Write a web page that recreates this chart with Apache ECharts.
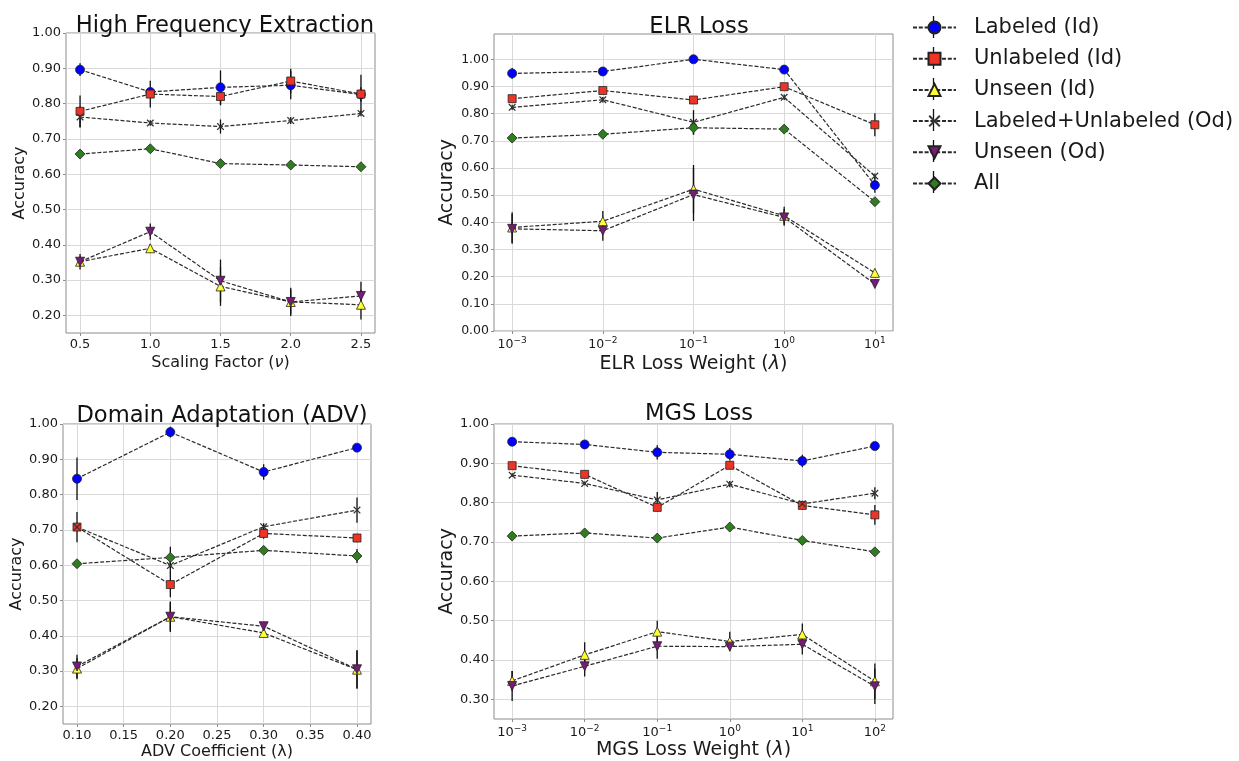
<!DOCTYPE html>
<html><head><meta charset="utf-8">
<script src="https://cdn.jsdelivr.net/npm/echarts@6/dist/echarts.min.js"></script>
<style>html,body{margin:0;padding:0;background:#fff}#c{width:1239px;height:761px}</style>
</head><body><div id="c"></div>
<script>
// ---------- data ----------
const seriesNames = ['Labeled (Id)','Unlabeled (Id)','Unseen (Id)','Labeled+Unlabeled (Od)','Unseen (Od)','All'];

// High Frequency Extraction
const hfxX = [0.5, 1.0, 1.5, 2.0, 2.5];
const hfxLabeledId = [0.896, 0.833, 0.846, 0.852, 0.826];
const hfxLabeledIdErr = [0.018, 0.010, 0.048, 0.040, 0.020];
const hfxUnlabeledId = [0.778, 0.827, 0.820, 0.864, 0.827];
const hfxUnlabeledIdErr = [0.045, 0.038, 0.025, 0.035, 0.055];
const hfxUnseenId = [0.352, 0.390, 0.282, 0.238, 0.230];
const hfxUnseenIdErr = [0.015, 0.012, 0.055, 0.035, 0.042];
const hfxLUOd = [0.762, 0.745, 0.735, 0.752, 0.772];
const hfxLUOdErr = [0.030, 0.008, 0.020, 0.010, 0.008];
const hfxUnseenOd = [0.352, 0.437, 0.298, 0.238, 0.255];
const hfxUnseenOdErr = [0.022, 0.023, 0.060, 0.040, 0.040];
const hfxAll = [0.657, 0.672, 0.630, 0.626, 0.621];
const hfxAllErr = [0.005, 0.005, 0.005, 0.005, 0.005];
const hfxXTicks = [0.5, 1.0, 1.5, 2.0, 2.5];
const hfxYTicks = [0.2, 0.3, 0.4, 0.5, 0.6, 0.7, 0.8, 0.9, 1.0];

// ELR Loss
const elrX = [0.001, 0.01, 0.1, 1, 10];
const elrLabeledId = [0.948, 0.955, 1.000, 0.962, 0.537];
const elrLabeledIdErr = [0.020, 0.008, 0.005, 0.008, 0.028];
const elrUnlabeledId = [0.855, 0.885, 0.850, 0.899, 0.759];
const elrUnlabeledIdErr = [0.010, 0.010, 0.010, 0.010, 0.042];
const elrUnseenId = [0.381, 0.404, 0.522, 0.424, 0.214];
const elrUnseenIdErr = [0.056, 0.038, 0.089, 0.033, 0.008];
const elrLUOd = [0.823, 0.851, 0.768, 0.860, 0.570];
const elrLUOdErr = [0.010, 0.010, 0.045, 0.010, 0.010];
const elrUnseenOd = [0.376, 0.369, 0.502, 0.418, 0.173];
const elrUnseenOdErr = [0.055, 0.037, 0.097, 0.031, 0.008];
const elrAll = [0.710, 0.724, 0.748, 0.743, 0.476];
const elrAllErr = [0.008, 0.008, 0.025, 0.010, 0.010];
const elrXTicks = [0.001, 0.01, 0.1, 1, 10];
const elrYTicks = [0.0, 0.1, 0.2, 0.3, 0.4, 0.5, 0.6, 0.7, 0.8, 0.9, 1.0];

// Domain Adaptation (ADV)
const advX = [0.1, 0.2, 0.3, 0.4];
const advLabeledId = [0.845, 0.977, 0.864, 0.933];
const advLabeledIdErr = [0.060, 0.015, 0.022, 0.008];
const advUnlabeledId = [0.708, 0.545, 0.690, 0.677];
const advUnlabeledIdErr = [0.043, 0.036, 0.015, 0.012];
const advUnseenId = [0.307, 0.454, 0.408, 0.304];
const advUnseenIdErr = [0.030, 0.043, 0.010, 0.054];
const advLUOd = [0.708, 0.599, 0.709, 0.756];
const advLUOdErr = [0.010, 0.020, 0.010, 0.036];
const advUnseenOd = [0.313, 0.454, 0.427, 0.305];
const advUnseenOdErr = [0.033, 0.040, 0.010, 0.054];
const advAll = [0.604, 0.622, 0.642, 0.626];
const advAllErr = [0.005, 0.030, 0.008, 0.020];
const advXTicks = [0.10, 0.15, 0.20, 0.25, 0.30, 0.35, 0.40];
const advYTicks = [0.2, 0.3, 0.4, 0.5, 0.6, 0.7, 0.8, 0.9, 1.0];

// MGS Loss
const mgsX = [0.001, 0.01, 0.1, 1, 10, 100];
const mgsLabeledId = [0.955, 0.948, 0.928, 0.923, 0.906, 0.944];
const mgsLabeledIdErr = [0.005, 0.005, 0.018, 0.016, 0.016, 0.010];
const mgsUnlabeledId = [0.894, 0.872, 0.788, 0.895, 0.793, 0.769];
const mgsUnlabeledIdErr = [0.005, 0.008, 0.010, 0.010, 0.010, 0.025];
const mgsUnseenId = [0.347, 0.413, 0.472, 0.447, 0.465, 0.346];
const mgsUnseenIdErr = [0.025, 0.032, 0.028, 0.025, 0.028, 0.045];
const mgsLUOd = [0.870, 0.849, 0.807, 0.847, 0.797, 0.824];
const mgsLUOdErr = [0.005, 0.005, 0.020, 0.008, 0.008, 0.015];
const mgsUnseenOd = [0.334, 0.384, 0.435, 0.434, 0.440, 0.333];
const mgsUnseenOdErr = [0.038, 0.026, 0.032, 0.010, 0.026, 0.045];
const mgsAll = [0.715, 0.723, 0.710, 0.738, 0.704, 0.675];
const mgsAllErr = [0.005, 0.005, 0.005, 0.005, 0.005, 0.005];
const mgsXTicks = [0.001, 0.01, 0.1, 1, 10, 100];
const mgsYTicks = [0.3, 0.4, 0.5, 0.6, 0.7, 0.8, 0.9, 1.0];

// ---------- styling / layout ----------
const FONT = 'DejaVu Sans';
const TXT = '#1a1a1a';
const X_PATH = 'path://M0,1.2 L1.2,0 L5,3.8 L8.8,0 L10,1.2 L6.2,5 L10,8.8 L8.8,10 L5,6.2 L1.2,10 L0,8.8 L3.8,5 Z';
const TRI_DOWN = 'path://M0,0 L10,0 L5,9 Z';
const markers = [
  {symbol: 'circle', size: 9, color: '#0000ff'},
  {symbol: 'rect', size: 8, color: '#ee3424'},
  {symbol: 'triangle', size: 9, color: '#ffff33'},
  {symbol: X_PATH, size: 7.5, color: '#333333'},
  {symbol: TRI_DOWN, size: 9, color: '#7a1a78'},
  {symbol: 'diamond', size: 10, color: '#2e7d1e'}
];

const panels = [
  {title: 'High Frequency Extraction', titleX: 220, titleTop: 10,
   xName: 'Scaling Factor ({i|ν})', xNameSize: 16, xNameGap: 22, yNameSize: 16, yNameGap: 38, tickSize: 13,
   grid: {left: 66, top: 33, width: 309, height: 300},
   xType: 'value', xMin: 0.4, xMax: 2.6, xTicks: hfxXTicks, xDec: 1,
   yMin: 0.15, yMax: 1.0, yTicks: hfxYTicks,
   x: hfxX,
   means: [hfxLabeledId, hfxUnlabeledId, hfxUnseenId, hfxLUOd, hfxUnseenOd, hfxAll],
   errs: [hfxLabeledIdErr, hfxUnlabeledIdErr, hfxUnseenIdErr, hfxLUOdErr, hfxUnseenOdErr, hfxAllErr]},
  {title: 'ELR Loss', titleX: 694, titleTop: 11,
   xName: 'ELR Loss Weight ({i|λ})', xNameSize: 19, xNameGap: 24, yNameSize: 19, yNameGap: 37, tickSize: 12.5,
   grid: {left: 494, top: 34, width: 399, height: 297},
   xType: 'log', xMin: Math.pow(10, -3.2), xMax: Math.pow(10, 1.2), xTicks: elrXTicks,
   yMin: 0, yMax: 1.093, yTicks: elrYTicks,
   x: elrX,
   means: [elrLabeledId, elrUnlabeledId, elrUnseenId, elrLUOd, elrUnseenOd, elrAll],
   errs: [elrLabeledIdErr, elrUnlabeledIdErr, elrUnseenIdErr, elrLUOdErr, elrUnseenOdErr, elrAllErr]},
  {title: 'Domain Adaptation (ADV)', titleX: 217, titleTop: 400,
   xName: 'ADV Coefficient (λ)', xNameSize: 16, xNameGap: 20, yNameSize: 16, yNameGap: 37, tickSize: 13,
   grid: {left: 63, top: 424, width: 308, height: 302},
   xType: 'value', xMin: 0.085, xMax: 0.415, xTicks: advXTicks, xDec: 2,
   yMin: 0.15, yMax: 1.0, yTicks: advYTicks,
   x: advX,
   means: [advLabeledId, advUnlabeledId, advUnseenId, advLUOd, advUnseenOd, advAll],
   errs: [advLabeledIdErr, advUnlabeledIdErr, advUnseenIdErr, advLUOdErr, advUnseenOdErr, advAllErr]},
  {title: 'MGS Loss', titleX: 694, titleTop: 398,
   xName: 'MGS Loss Weight ({i|λ})', xNameSize: 19, xNameGap: 22, yNameSize: 19, yNameGap: 37, tickSize: 13,
   grid: {left: 494, top: 424, width: 399, height: 296},
   xType: 'log', xMin: Math.pow(10, -3.25), xMax: Math.pow(10, 2.25), xTicks: mgsXTicks,
   yMin: 0.25, yMax: 1.0, yTicks: mgsYTicks,
   x: mgsX,
   means: [mgsLabeledId, mgsUnlabeledId, mgsUnseenId, mgsLUOd, mgsUnseenOd, mgsAll],
   errs: [mgsLabeledIdErr, mgsUnlabeledIdErr, mgsUnseenIdErr, mgsLUOdErr, mgsUnseenOdErr, mgsAllErr]}
];

function logLabel(v) {
  const e = Math.round(Math.log10(v));
  return '{b|10}{s|' + (e < 0 ? '\u2212' + (-e) : String(e)) + '}';
}

const grids = [], xAxes = [], yAxes = [], titles = [], series = [];
panels.forEach((p, pi) => {
  grids.push(Object.assign({show: true, borderColor: '#8c8c8c', borderWidth: 1, backgroundColor: '#fff'}, p.grid));
  titles.push({text: p.title, left: p.titleX, top: p.titleTop, textAlign: 'center',
    textStyle: {fontFamily: FONT, fontSize: 22.6, fontWeight: 'normal', color: '#111'}});
  const isLog = p.xType === 'log';
  xAxes.push({
    type: p.xType, gridIndex: pi, min: p.xMin, max: p.xMax, logBase: 10,
    name: p.xName, nameLocation: 'middle', nameGap: p.xNameGap,
    nameTextStyle: {fontFamily: FONT, fontSize: p.xNameSize, color: TXT,
      rich: {i: {fontFamily: FONT, fontSize: p.xNameSize, fontStyle: 'italic', color: TXT}}},
    axisLine: {show: false},
    axisTick: {show: true, length: 3, lineStyle: {color: '#8c8c8c'}, customValues: p.xTicks},
    splitLine: {show: true, lineStyle: {color: '#d9d9d9', width: 1}},
    axisLabel: isLog ? {
      customValues: p.xTicks, margin: 5, formatter: logLabel,
      rich: {b: {fontFamily: FONT, fontSize: p.tickSize, color: TXT, lineHeight: 17},
             s: {fontFamily: FONT, fontSize: 9, color: TXT, verticalAlign: 'top', lineHeight: 17}}
    } : {
      customValues: p.xTicks, margin: 5, fontFamily: FONT, fontSize: p.tickSize, color: TXT,
      formatter: v => v.toFixed(p.xDec)
    }
  });
  yAxes.push({
    type: 'value', gridIndex: pi, min: p.yMin, max: p.yMax,
    name: 'Accuracy', nameLocation: 'middle', nameGap: p.yNameGap,
    nameTextStyle: {fontFamily: FONT, fontSize: p.yNameSize, color: TXT},
    axisLine: {show: false},
    axisTick: {show: true, length: 3, lineStyle: {color: '#8c8c8c'}, customValues: p.yTicks},
    splitLine: {show: true, lineStyle: {color: '#d9d9d9', width: 1}},
    axisLabel: {customValues: p.yTicks, margin: 5, fontFamily: FONT, fontSize: p.tickSize, color: TXT,
      formatter: v => v.toFixed(2)}
  });
  // error bars (all series of the panel)
  p.means.forEach((m, si) => {
    series.push({
      type: 'custom', xAxisIndex: pi, yAxisIndex: pi, z: 1, silent: true,
      data: p.x.map((xv, k) => [xv, m[k] - p.errs[si][k], m[k] + p.errs[si][k]]),
      encode: {x: 0, y: [1, 2]},
      renderItem: (params, api) => {
        const a = api.coord([api.value(0), api.value(1)]);
        const b = api.coord([api.value(0), api.value(2)]);
        return {type: 'line', shape: {x1: a[0], y1: a[1], x2: b[0], y2: b[1]},
          style: {stroke: '#111', lineWidth: 1.3}};
      }
    });
  });
  p.means.forEach((m, si) => {
    const mk = markers[si];
    series.push({
      type: 'line', name: seriesNames[si], xAxisIndex: pi, yAxisIndex: pi, z: 3,
      data: p.x.map((xv, k) => [xv, m[k]]),
      symbol: mk.symbol, symbolSize: mk.size, showAllSymbol: true,
      itemStyle: {color: mk.color, borderColor: '#222', borderWidth: si === 3 ? 0 : 0.8},
      lineStyle: {color: '#2a2a2a', width: 1.2, type: [4, 1.8]},
      emphasis: {disabled: true}
    });
  });
});

// legend error-bar ticks (decoration)
const legendTop = 17, legendRow = 31, legendLeft = 912, legendIconW = 43;
const legendBars = seriesNames.map((n, i) => ({
  type: 'line', z: 0, silent: true,
  shape: {x1: legendLeft + legendIconW / 2, y1: legendTop + 10 + i * legendRow - 11,
          x2: legendLeft + legendIconW / 2, y2: legendTop + 10 + i * legendRow + 11},
  style: {stroke: '#111', lineWidth: 1.3}
}));

const chart = echarts.init(document.getElementById('c'), null, {renderer: 'canvas'});
chart.setOption({
  animation: false,
  backgroundColor: '#fff',
  title: titles,
  grid: grids,
  xAxis: xAxes,
  yAxis: yAxes,
  legend: {
    data: seriesNames, orient: 'vertical', left: legendLeft, top: legendTop, padding: 0,
    itemWidth: legendIconW, itemHeight: 15, itemGap: 10.2, selectedMode: false,
    textStyle: {fontFamily: FONT, fontSize: 21, color: TXT, lineHeight: 20, padding: [0, 0, 0, 13]}
  },
  graphic: legendBars,
  series: series
});
</script></body></html>
